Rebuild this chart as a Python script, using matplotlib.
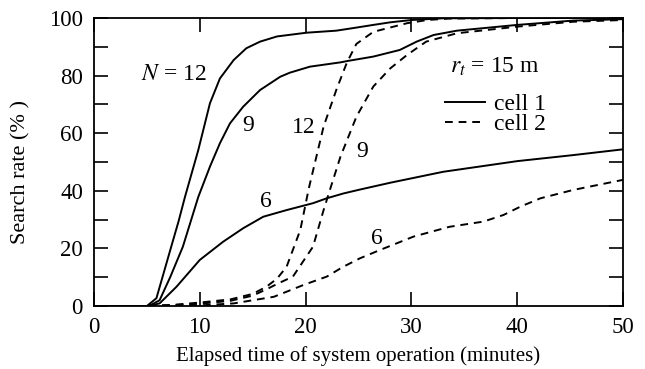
import matplotlib
matplotlib.use("Agg")
import matplotlib.pyplot as plt
from matplotlib.lines import Line2D

plt.rcParams['font.family'] = ['Liberation Serif', 'DejaVu Serif']
plt.rcParams['mathtext.fontset'] = 'stix'

# cell 1 (solid)
c1_n12_t = [0, 5.0, 5.9, 7.3, 8.0, 8.6, 9.86, 10.96, 11.9, 13.2, 14.4, 15.7, 17.3, 20.1, 22.9, 24.5, 26.4, 28.0, 30.0, 33.0, 40, 50]
c1_n12_v = [0, 0, 2.7, 20.6, 29.5, 37.9, 54.2, 70.4, 79.0, 85.4, 89.5, 91.8, 93.6, 94.9, 95.6, 96.5, 97.6, 98.5, 99.3, 99.9, 100, 100]
c1_n9_t = [0, 5.2, 6.2, 7.2, 8.4, 9.86, 10.96, 11.9, 12.85, 14.1, 15.7, 17.6, 18.5, 20.4, 23.3, 24.0, 26.4, 28.9, 30.5, 32.1, 34.3, 40.0, 45.3, 50]
c1_n9_v = [0, 0, 2, 10, 20.6, 37.9, 48.4, 56.5, 63.4, 69.2, 75.0, 79.6, 81.0, 83.1, 84.6, 85.1, 86.6, 88.9, 91.8, 94.1, 95.6, 97.6, 99.1, 99.6]
c1_n6_t = [0, 5.1, 6.2, 7.8, 10.0, 12.2, 14.1, 16.0, 18.2, 20.7, 22.0, 23.6, 25.1, 28.0, 33.0, 40.0, 45.3, 50]
c1_n6_v = [0, 0, 0.9, 6.7, 16, 22.3, 27, 31, 33.3, 35.7, 37.4, 39.1, 40.4, 42.8, 46.6, 50.3, 52.4, 54.4]

# cell 2 (dashed)
c2_n12_t = [0, 5, 7.5, 10, 12.9, 15, 16.3, 17.3, 18.2, 19.5, 20.3, 21.7, 22.9, 23.9, 24.8, 26.4, 29.6, 31.5, 33.5, 40, 50]
c2_n12_v = [0, 0, 0.4, 1.2, 2.3, 4.2, 6.7, 9.5, 13.6, 26.4, 40.8, 62.3, 75, 84.5, 91, 95.2, 98.2, 99.3, 99.8, 100, 100]
c2_n9_t = [0, 5, 7.5, 10, 12.9, 15, 16.3, 17.5, 18.8, 20.7, 21.7, 22.4, 23.3, 24.8, 26.4, 28.0, 29.6, 31.4, 34.3, 40.0, 45.3, 50]
c2_n9_v = [0, 0, 0.3, 0.8, 1.8, 3.6, 5.8, 8, 10.2, 20.6, 33.3, 41.5, 51.9, 65.7, 76.2, 82.5, 87.2, 91.8, 94.7, 97, 98.7, 99.3]
c2_n6_t = [0, 5, 10, 13.2, 17, 19.8, 22, 23.5, 25.1, 27.0, 30.2, 33.6, 36.8, 38.7, 40.3, 42.2, 45.3, 50]
c2_n6_v = [0, 0, 0.2, 0.9, 3.2, 7.3, 10.2, 13.5, 16.5, 19.4, 24.1, 27.5, 29.3, 31.6, 34.5, 37.4, 40.3, 43.8]

x_ticks = [0, 10, 20, 30, 40, 50]
y_major = [0, 20, 40, 60, 80, 100]
y_minor = [10, 30, 50, 70, 90]

fig = plt.figure(figsize=(6.45, 3.69), dpi=100)
ax = fig.add_axes([94/645, 1-306/369, (623-94)/645, (306-18)/369])

lw = 1.4
dash = (0, (4.0, 3.0))
ax.plot(c1_n12_t, c1_n12_v, 'k-', lw=lw)
ax.plot(c1_n9_t, c1_n9_v, 'k-', lw=lw)
ax.plot(c1_n6_t, c1_n6_v, 'k-', lw=lw)
ax.plot(c2_n12_t, c2_n12_v, color='k', ls=dash, lw=lw)
ax.plot(c2_n9_t, c2_n9_v, color='k', ls=dash, lw=lw)
ax.plot(c2_n6_t, c2_n6_v, color='k', ls=dash, lw=lw)

ax.set_xlim(0, 50)
ax.set_ylim(0, 100)
ax.set_xticks(x_ticks)
ax.set_yticks(y_major)
ax.set_yticks(y_minor, minor=True)
ax.tick_params(which='both', direction='in', length=10, width=1.2,
               top=True, right=True, labelsize=16.5, pad=8)
for s in ax.spines.values():
    s.set_linewidth(1.3)

ax.set_xlabel('Elapsed time of system operation (minutes)', fontsize=15, labelpad=6)
ax.set_ylabel('Search rate (% )', fontsize=16)
ax.yaxis.set_label_coords(-0.121, 0.465)

fs = 17
ax.text(7.5, 80.5, '$N$ = 12', fontsize=fs, ha='center', va='center')
ax.text(14.6, 62.8, '9', fontsize=fs, ha='center', va='center')
ax.text(19.8, 62, '12', fontsize=fs, ha='center', va='center')
ax.text(25.3, 53.6, '9', fontsize=fs, ha='center', va='center')
ax.text(16.2, 36.2, '6', fontsize=fs, ha='center', va='center')
ax.text(26.7, 23.5, '6', fontsize=fs, ha='center', va='center')

ax.text(37.9, 83.1, '$r_t$ = 15 m', fontsize=fs, ha='center', va='center')
handles = [Line2D([], [], color='k', lw=lw, ls='-'),
           Line2D([], [], color='k', lw=lw, ls=dash)]
ax.legend(handles, ['cell 1', 'cell 2'], frameon=False, fontsize=fs,
          loc='upper left', bbox_to_anchor=(33.2/50, 73.8/100),
          handlelength=1.7, handletextpad=0.35, labelspacing=-0.05,
          borderpad=0, borderaxespad=0)

fig.savefig('out.png', dpi=100)
